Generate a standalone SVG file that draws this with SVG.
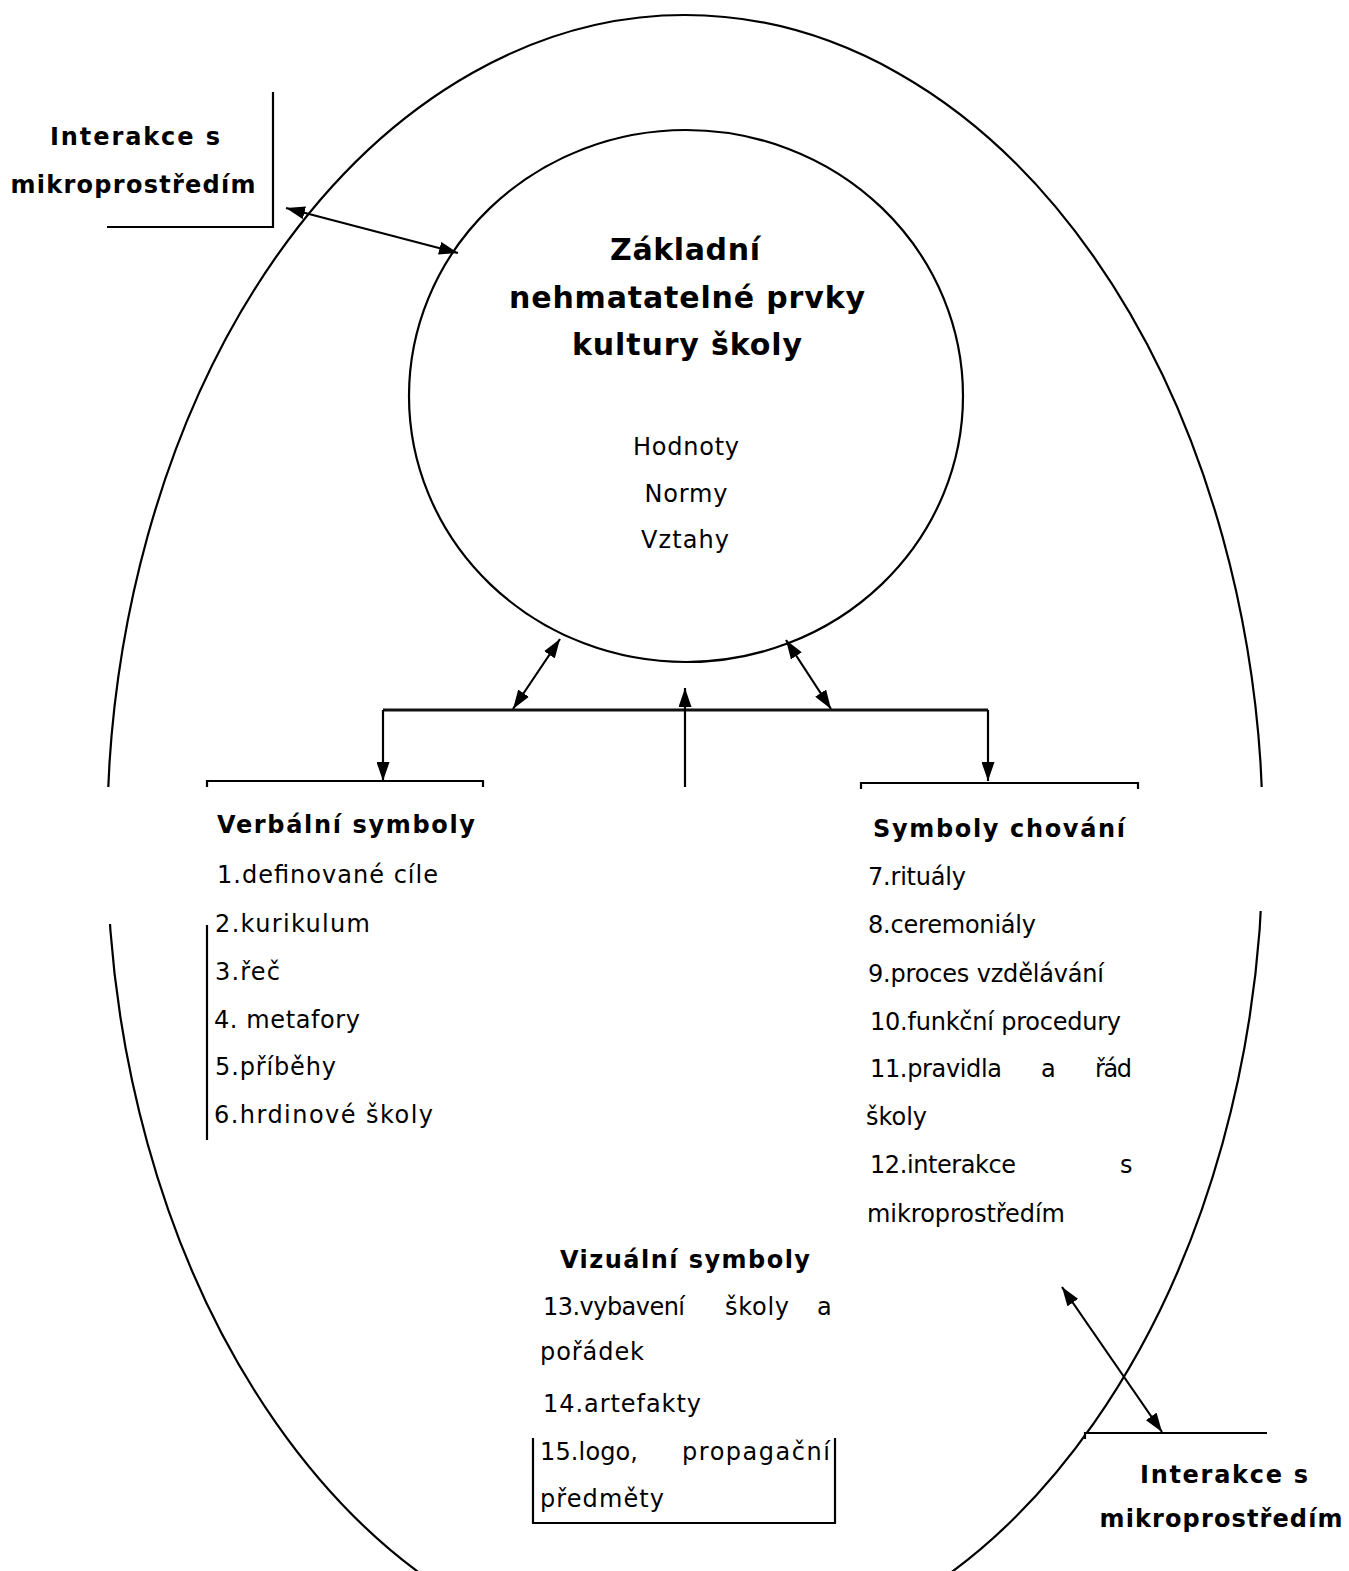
<svg xmlns="http://www.w3.org/2000/svg" width="1349" height="1571" viewBox="0 0 1349 1571">
<style>
.ln{fill:none;stroke:#000;stroke-width:2.2}
.bar{fill:none;stroke:#111;stroke-width:3}
.t{font-family:"DejaVu Sans","Liberation Sans",sans-serif;font-size:24px;fill:#000}
.b{font-family:"DejaVu Sans","Liberation Sans",sans-serif;font-size:24px;font-weight:bold;fill:#000}
.h{font-family:"DejaVu Sans","Liberation Sans",sans-serif;font-size:30px;font-weight:bold;fill:#000}
.mask{fill:#fff;stroke:none}
</style>
<defs>
<marker id="ah" viewBox="0 0 19 13" refX="19" refY="6.5" markerWidth="19" markerHeight="13" markerUnits="userSpaceOnUse" orient="auto-start-reverse">
<path d="M0,0 L19,6.5 L0,13 z" fill="#000"/>
</marker>
</defs>
<rect width="1349" height="1571" fill="#fff"/>

<g id="outer-ellipse">
<ellipse class="ln" cx="685" cy="840" rx="578" ry="825"/>
<rect class="mask" x="60" y="787" width="440" height="137"/>
<rect class="mask" x="850" y="787" width="450" height="124"/>
<rect class="mask" x="1085" y="1434" width="264" height="137"/>
</g>

<g id="core">
<ellipse class="ln" cx="686" cy="396" rx="277" ry="266"/>
<text class="h" x="685" y="260" text-anchor="middle" textLength="150">Základní</text>
<text class="h" x="687" y="308" text-anchor="middle" textLength="356">nehmatatelné prvky</text>
<text class="h" x="687" y="355" text-anchor="middle" textLength="230">kultury školy</text>
<text class="t" x="686" y="455" text-anchor="middle" textLength="106">Hodnoty</text>
<text class="t" x="686" y="502" text-anchor="middle" textLength="83">Normy</text>
<text class="t" x="685" y="548" text-anchor="middle" textLength="88">Vztahy</text>
</g>

<g id="interakce-top">
<path class="ln" d="M273,92 V227 H107"/>
<text class="b" x="135" y="145" text-anchor="middle" textLength="170">Interakce s</text>
<text class="b" x="133" y="193" text-anchor="middle" textLength="245">mikroprostředím</text>
</g>

<g id="verbalni">
<path class="ln" d="M207,787 V781 H483 V787"/>
<path class="ln" d="M207,925 V1140"/>
<text class="b" x="217" y="833" textLength="258">Verbální symboly</text>
<text class="t" x="217" y="883" textLength="221">1.definované cíle</text>
<text class="t" x="215" y="932" textLength="155">2.kurikulum</text>
<text class="t" x="215" y="980" textLength="65">3.řeč</text>
<text class="t" x="214" y="1028" textLength="146">4. metafory</text>
<text class="t" x="215" y="1075" textLength="121">5.příběhy</text>
<text class="t" x="214" y="1123" textLength="219">6.hrdinové školy</text>
</g>

<g id="chovani">
<path class="ln" d="M861,789 V783 H1138 V789"/>
<text class="b" x="873" y="837" textLength="252">Symboly chování</text>
<text class="t" x="868" y="885" textLength="98">7.rituály</text>
<text class="t" x="868" y="933" textLength="168">8.ceremoniály</text>
<text class="t" x="868" y="982" textLength="236">9.proces vzdělávání</text>
<text class="t" x="870" y="1030" textLength="251">10.funkční procedury</text>
<text class="t" x="870" y="1077" textLength="132">11.pravidla</text>
<text class="t" x="1041" y="1077">a</text>
<text class="t" x="1095" y="1077" textLength="37">řád</text>
<text class="t" x="866" y="1125" textLength="61">školy</text>
<text class="t" x="870" y="1173" textLength="146">12.interakce</text>
<text class="t" x="1120" y="1173">s</text>
<text class="t" x="867" y="1222" textLength="198">mikroprostředím</text>
</g>

<g id="vizualni">
<text class="b" x="560" y="1268" textLength="250">Vizuální symboly</text>
<text class="t" x="543" y="1315" textLength="142">13.vybavení</text>
<text class="t" x="725" y="1315" textLength="64">školy</text>
<text class="t" x="817" y="1315">a</text>
<text class="t" x="540" y="1360" textLength="104">pořádek</text>
<text class="t" x="543" y="1412" textLength="158">14.artefakty</text>
<text class="t" x="540" y="1460" textLength="98">15.logo,</text>
<text class="t" x="682" y="1460" textLength="148">propagační</text>
<text class="t" x="540" y="1507" textLength="124">předměty</text>
<path class="ln" d="M533,1438 V1523 H835 V1438"/>
</g>

<g id="interakce-bottom">
<path class="ln" d="M1085,1439 V1433 H1267"/>
<text class="b" x="1224" y="1483" text-anchor="middle" textLength="168">Interakce s</text>
<text class="b" x="1221" y="1527" text-anchor="middle" textLength="243">mikroprostředím</text>
</g>

<g id="connectors">
<line class="ln" x1="286" y1="208" x2="458" y2="253" marker-start="url(#ah)" marker-end="url(#ah)"/>
<line class="ln" x1="560" y1="639" x2="513" y2="709" marker-start="url(#ah)" marker-end="url(#ah)"/>
<line class="ln" x1="786" y1="640" x2="831" y2="709" marker-start="url(#ah)" marker-end="url(#ah)"/>
<path class="bar" d="M383,710 H988"/>
<line class="ln" x1="383" y1="710" x2="383" y2="781" marker-end="url(#ah)"/>
<line class="ln" x1="988" y1="710" x2="988" y2="781" marker-end="url(#ah)"/>
<line class="ln" x1="685" y1="787" x2="685" y2="688" marker-end="url(#ah)"/>
<line class="ln" x1="1062" y1="1287" x2="1162" y2="1432" marker-start="url(#ah)" marker-end="url(#ah)"/>
</g>
</svg>
